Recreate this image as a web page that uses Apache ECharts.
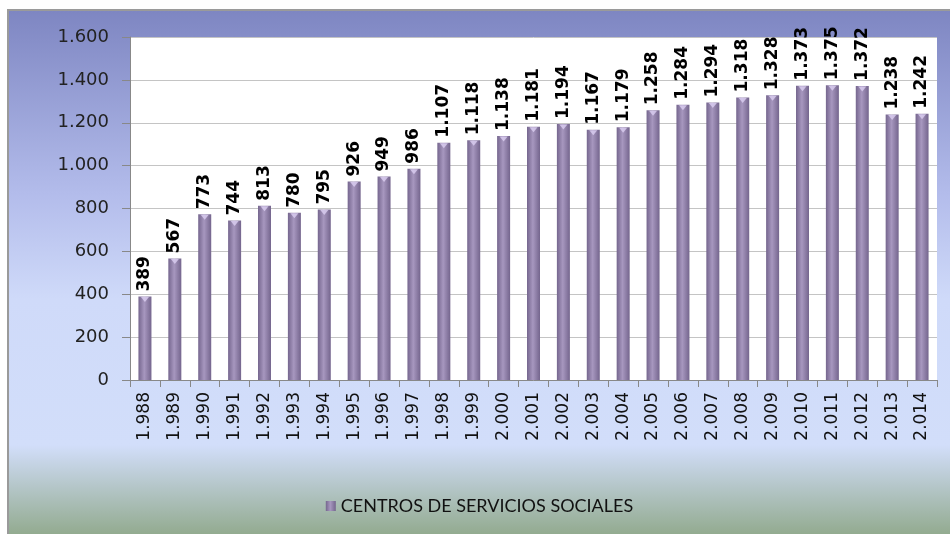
<!DOCTYPE html>
<html><head><meta charset="utf-8">
<script src="https://cdn.jsdelivr.net/npm/echarts@6/dist/echarts.min.js"></script>
<style>
html,body{margin:0;padding:0;background:#fff;width:950px;height:534px;overflow:hidden;}
#wrap{position:absolute;left:7px;top:9px;width:943px;height:525px;border-left:2px solid #9a9a9a;border-top:2px solid #9a9a9a;}
#c{width:941px;height:523px;}
</style></head><body>
<div id="wrap"><div id="c"></div></div>
<script>
const years = ['1.988','1.989','1.990','1.991','1.992','1.993','1.994','1.995','1.996','1.997','1.998','1.999','2.000','2.001','2.002','2.003','2.004','2.005','2.006','2.007','2.008','2.009','2.010','2.011','2.012','2.013','2.014'];
const centros = [389,567,773,744,813,780,795,926,949,986,1107,1118,1138,1181,1194,1167,1179,1258,1284,1294,1318,1328,1373,1375,1372,1238,1242];
const seriesName = 'CENTROS DE SERVICIOS SOCIALES';
const yTicks = {min:0, max:1600, interval:200};

function fmt(v){ return String(v).replace(/\B(?=(\d{3})+(?!\d))/g,'.'); }

const chart = echarts.init(document.getElementById('c'));
chart.setOption({
  animation:false,
  backgroundColor:{type:'linear',x:0,y:0,x2:0,y2:1,colorStops:[
    {offset:0,color:'#7E86C2'},{offset:0.35,color:'#B3BCEB'},{offset:0.55,color:'#CFDAF9'},
    {offset:0.83,color:'#D2DEFA'},{offset:1,color:'#93AB90'}]},
  grid:{left:121,right:13,top:26,bottom:154,show:true,backgroundColor:'#ffffff',borderWidth:0},
  legend:{data:[seriesName],bottom:14,left:'center',itemWidth:10,itemHeight:10,itemGap:6,
    textStyle:{fontFamily:'Lato',fontSize:18,color:'#111'},
    icon:'rect'},
  xAxis:{type:'category',data:years,
    axisLine:{lineStyle:{color:'#888'}},
    axisTick:{show:true,length:7,lineStyle:{color:'#888'}},
    axisLabel:{rotate:90,margin:12,fontFamily:'DejaVu Sans',fontSize:17,color:'#111'}},
  yAxis:{type:'value',min:yTicks.min,max:yTicks.max,interval:yTicks.interval,
    axisLine:{show:true,lineStyle:{color:'#888'}},
    axisTick:{show:true,length:8,lineStyle:{color:'#888'}},
    splitLine:{lineStyle:{color:'#C4C4C4'}},
    axisLabel:{margin:21,fontFamily:'DejaVu Sans',fontSize:18,color:'#222',formatter:v=>fmt(v)}},
  series:[{
    name:seriesName,type:'bar',data:centros,barWidth:13,
    itemStyle:{color:{type:'linear',x:0,y:0,x2:1,y2:0,colorStops:[
      {offset:0,color:'#75668E'},{offset:0.45,color:'#A797BF'},{offset:1,color:'#74658D'}]}},
    label:{show:true,position:'top',rotate:90,align:'left',verticalAlign:'middle',distance:5,
      fontFamily:'DejaVu Sans',fontWeight:'bold',fontSize:17,color:'#000',formatter:p=>fmt(p.value)}
  },{
    name:'tops',type:'scatter',data:centros,symbol:'path://M0,0L10,0L5,6Z',symbolSize:[8,5],
    symbolOffset:[0,3],itemStyle:{color:'#DCCFF2'},silent:true,z:5
  }]
});
</script></body></html>
